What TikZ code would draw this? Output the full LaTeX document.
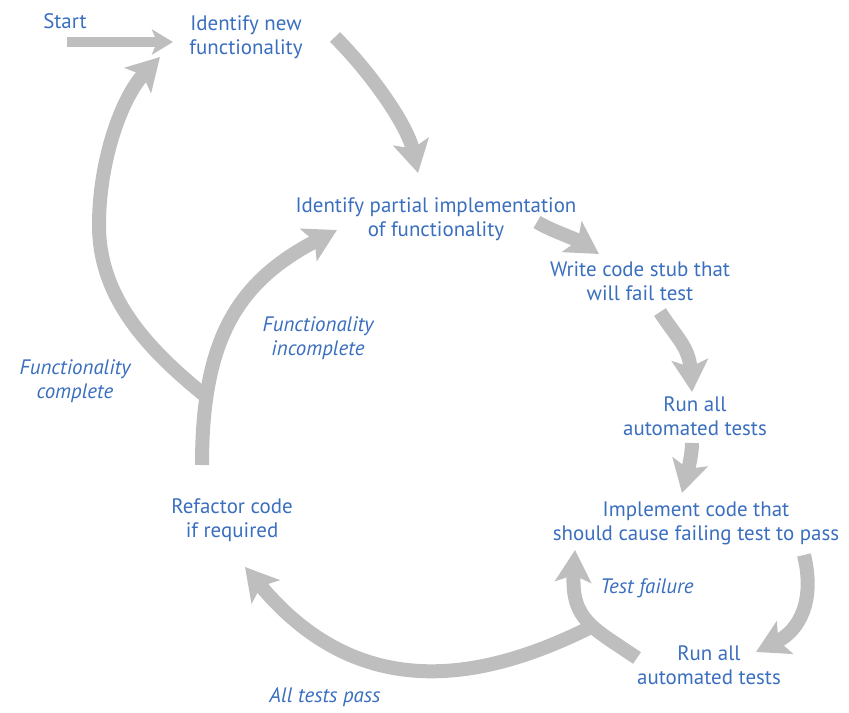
\documentclass[tikz,border=0pt]{standalone}
\usepackage{fontspec}
\setmainfont{PT Sans}
\usetikzlibrary{arrows.meta}
\definecolor{stepblue}{RGB}{58,110,190}
\definecolor{flowgray}{RGB}{190,190,190}
\tikzset{
	stage/.style={text=stepblue, align=center, inner sep=0pt, font=\fontsize{21}{24}\selectfont},
	cond/.style={stage, font=\fontsize{21}{24}\selectfont\itshape},
	flow/.style={line width=14bp, draw=flowgray, -{Stealth[length=32bp, width=36bp, inset=7bp]}},
	startflow/.style={line width=10bp, draw=flowgray, -{Stealth[length=21bp, width=25bp, inset=5bp]}}
}
\begin{document}
\begin{tikzpicture}[x=1bp,y=-1bp]
			\useasboundingbox (0,0) rectangle (849,713);
			\node[stage](start) at (65,21) {Start};
			\node[stage](new) at (246,37) {Identify new\\functionality};
			\node[stage](partial) at (436,219) {Identify partial implementation\\of functionality};
			\node[stage](stub) at (640,281) {Write code stub that\\will fail test};
			\node[stage](run1) at (695,416) {Run all\\automated tests};
			\node[stage](impl) at (696,523) {Implement code that\\should cause failing test to pass};
			\node[stage](run2) at (709,665) {Run all\\automated tests};
			\node[stage](refactor) at (232,520) {Refactor code\\if required};
			
			\node[cond](complete) at (75,381) {Functionality\\complete};
			\node[cond](incomplete) at (318,338) {Functionality\\incomplete};
			\node[cond](failure) at (647,588) {Test failure};
			\node[cond](pass) at (325,697) {All tests pass};
			
			\draw[startflow] ([shift={(2,21)}]start.center) -- ([shift={(-73,5)}]new.center);
			\draw[flow] ([shift={(89,0)}]new.center) .. controls +(35,35) and +(-11,-49) .. ([shift={(-18,-46)}]partial.center);
			\draw[flow] ([shift={(101,3)}]partial.center) .. controls +(15,9) and +(-25,-16) .. ([shift={(-41,-27)}]stub.center);
			\draw[flow] ([shift={(20,31)}]stub.center) .. controls +(16,25) and +(-3,-45) .. ([shift={(-3,-24)}]run1.center);
			\draw[flow] ([shift={(-3,27)}]run1.center) .. controls +(0,12) and +(6,-23) .. ([shift={(-14,-30)}]impl.center);
			\draw[flow] ([shift={(108,32)}]impl.center) .. controls +(11,45) and +(44,-22) .. ([shift={(47,-13)}]run2.center);
			\draw[flow] ([shift={(-72,-7)}]run2.center) .. controls +(-44,-30) and +(-4,70) .. ([shift={(-121,27)}]impl.center);
			\draw[flow] ([shift={(-116,-39)}]run2.center) .. controls +(-111,56) and +(114,137) .. ([shift={(13,47)}]refactor.center);
			\draw[flow] ([shift={(-30,-55)}]refactor.center) .. controls +(0,-125) and +(-100,52) .. ([shift={(-99,11)}]partial.center);
			\draw[flow] ([shift={(-29,-126)}]refactor.center) .. controls +(-59,-48) and +(0,70) .. (99,225) .. controls +(0,-65) and +(-38,40) .. ([shift={(-86,20)}]new.center);
\end{tikzpicture}
\end{document}
